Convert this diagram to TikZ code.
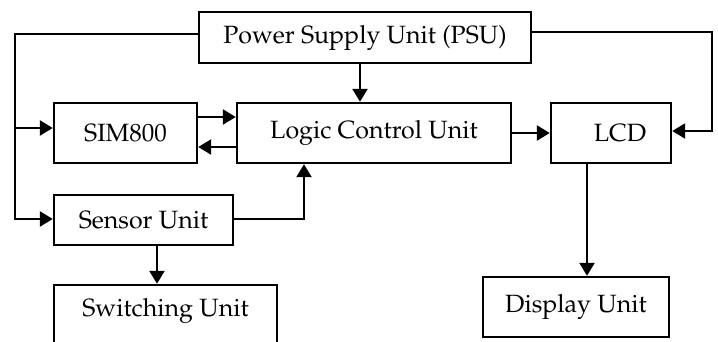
\documentclass[tikz,border=0pt]{standalone}
\usepackage[T1]{fontenc}
\usepackage{mathpazo}
\usetikzlibrary{arrows.meta}
\tikzset{
  txt/.style={font=\fontsize{25}{29}\selectfont},
  blk/.style={draw, line width=2.4pt, rectangle, inner sep=0pt, txt},
  con/.style={line width=2.4pt},
  arr/.style={con, -{Triangle[length=13pt,width=15pt]}},
}
\begin{document}
\begin{tikzpicture}[x=1pt,y=-1pt]
\useasboundingbox (0,0) rectangle (718,341);
\clip (0,0) rectangle (718,341);
\node[blk, minimum width=332pt, minimum height=51pt] (psu) at (365,37.5) {Power Supply Unit (PSU)};
\node[blk, minimum width=143pt, minimum height=60pt] (sim) at (125.5,133) {SIM800};
\node[blk, minimum width=274pt, minimum height=60pt] (logic) at (374,133) {Logic Control Unit};
\node[blk, minimum width=120pt, minimum height=60pt] (lcd) at (611,133) {};
\node[txt] (lcdt) at (620,133) {LCD};
\node[blk, minimum width=179pt, minimum height=50pt] (sensor) at (143.5,220) {Sensor Unit};
\node[blk, minimum width=223pt, minimum height=70pt] (switch) at (165.5,320) {};
\node[txt] (switcht) at (165.5,311) {Switching Unit};
\node[blk, minimum width=186pt, minimum height=60pt] (disp) at (576,307) {Display Unit};
\coordinate (l1) at (15,34);
\coordinate (l2) at (15,219);
\coordinate (r1) at (712,32);
\coordinate (r2) at (712,131);
\coordinate (s1) at (304,219);
\draw[arr] (psu.west |- l1) -- (l1) -- (l2) -- (sensor.west |- l2);
\draw[arr] (15,128) -- (sim.west |- 0,128);
\draw[arr] (psu.east |- r1) -- (r1) -- (r2) -- (lcd.east |- r2);
\draw[arr] (psu.south -| 360,0) -- (logic.north -| 360,0);
\draw[arr] (sim.east |- 0,117) -- (logic.west |- 0,117);
\draw[arr] (logic.west |- 0,147) -- (sim.east |- 0,147);
\draw[arr] (logic.east |- 0,133) -- (lcd.west |- 0,133);
\draw[arr] (lcd.south -| 587,0) -- (disp.north -| 587,0);
\draw[arr] (sensor.east |- s1) -- (s1) -- (logic.south -| s1);
\draw[arr] (sensor.south -| 157,0) -- (switch.north -| 157,0);
\end{tikzpicture}
\end{document}
